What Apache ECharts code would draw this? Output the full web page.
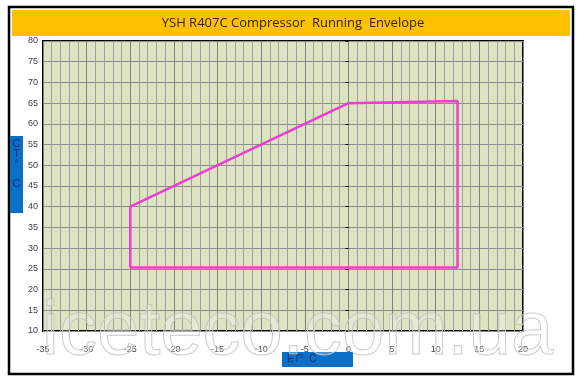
<!DOCTYPE html>
<html><head><meta charset="utf-8">
<script src="https://cdn.jsdelivr.net/npm/echarts@6/dist/echarts.min.js"></script>
<style>html,body{margin:0;padding:0;background:#fff}#c{width:586px;height:386px}</style>
</head><body><div id="c"></div>
<script>
const titleText = 'YSH R407C Compressor  Running  Envelope';
const xName = 'ET°  C';
const yName = 'C\nT\n°\n\nC';
const envelopeET = [-25, -25, 0, 12.5, 12.5, -25];
const envelopeCT = [25.3, 40, 65, 65.5, 25.3, 25.3];
const xTicks = {min: -35, max: 20, step: 5};
const yTicks = {min: 10, max: 80, step: 5};

const chart = echarts.init(document.getElementById('c'), null, {renderer: 'canvas'});
const data = envelopeET.map((x, i) => [x, envelopeCT[i]]);
chart.setOption({
  animation: false,
  backgroundColor: '#fff',
  grid: {left: 43, top: 41, right: 63, bottom: 55, show: true, backgroundColor: '#dde4c2', borderColor: '#000', borderWidth: 2, containLabel: false},
  xAxis: {
    type: 'value', min: xTicks.min, max: xTicks.max, interval: xTicks.step,
    axisLine: {show: false},
    axisTick: {show: false},
    axisLabel: {fontSize: 9, color: '#404040', margin: 14, fontFamily: 'Liberation Sans'},
    splitLine: {show: true, lineStyle: {color: '#7f7f7f', width: 1}},
    minorTick: {show: false, splitNumber: 5},
    minorSplitLine: {show: true, lineStyle: {color: '#a0a0a0', width: 1}}
  },
  yAxis: {
    type: 'value', min: yTicks.min, max: yTicks.max, interval: yTicks.step,
    axisLine: {show: false},
    axisTick: {show: true, length: 3, lineStyle: {color: '#000'}},
    axisLabel: {fontSize: 9, color: '#404040', margin: 5, fontFamily: 'Liberation Sans'},
    splitLine: {show: true, lineStyle: {color: '#8c8c8c', width: 1}}
  },
  series: [{
    type: 'line', data: data, symbol: 'none',
    lineStyle: {color: '#ee3dd2', width: 2.5}, z: 5
  }],
  graphic: [
    {type: 'rect', shape: {x: 9, y: 7, width: 564, height: 367}, style: {fill: 'none', stroke: '#000', lineWidth: 2.5}, z: 0, silent: true},
    {type: 'rect', shape: {x: 12, y: 10, width: 558, height: 26}, style: {fill: '#ffc000'}, z: 1},
    {type: 'text', x: 293, y: 23, style: {text: titleText, fontSize: 13, fontFamily: 'Open Sans', fill: '#2f2500', align: 'center', verticalAlign: 'middle'}, z: 2},
    {type: 'rect', shape: {x: 10, y: 136, width: 13, height: 77}, style: {fill: '#0b6fc6'}, z: 1},
    {type: 'text', x: 16.5, y: 139, style: {text: yName, fontSize: 11, lineHeight: 10, fontFamily: 'Liberation Sans', fill: '#0a2f6a', align: 'center', verticalAlign: 'top'}, z: 2},
    {type: 'rect', shape: {x: 282, y: 352, width: 71, height: 15}, style: {fill: '#0b6fc6'}, z: 1},
    {type: 'text', x: 287, y: 359.5, style: {text: xName, fontSize: 10, fontFamily: 'Liberation Sans', fill: '#0a2f6a', align: 'left', verticalAlign: 'middle'}, z: 2},
    {type: 'text', x: 42, y: 333, style: {text: 'icetecо.com.ua', fontSize: 76, fontFamily: 'Liberation Sans', fill: 'rgba(255,255,255,0.25)', stroke: 'rgba(190,190,190,0.9)', lineWidth: 1, align: 'left', verticalAlign: 'middle'}, z: 10, silent: true}
  ]
});
</script></body></html>
